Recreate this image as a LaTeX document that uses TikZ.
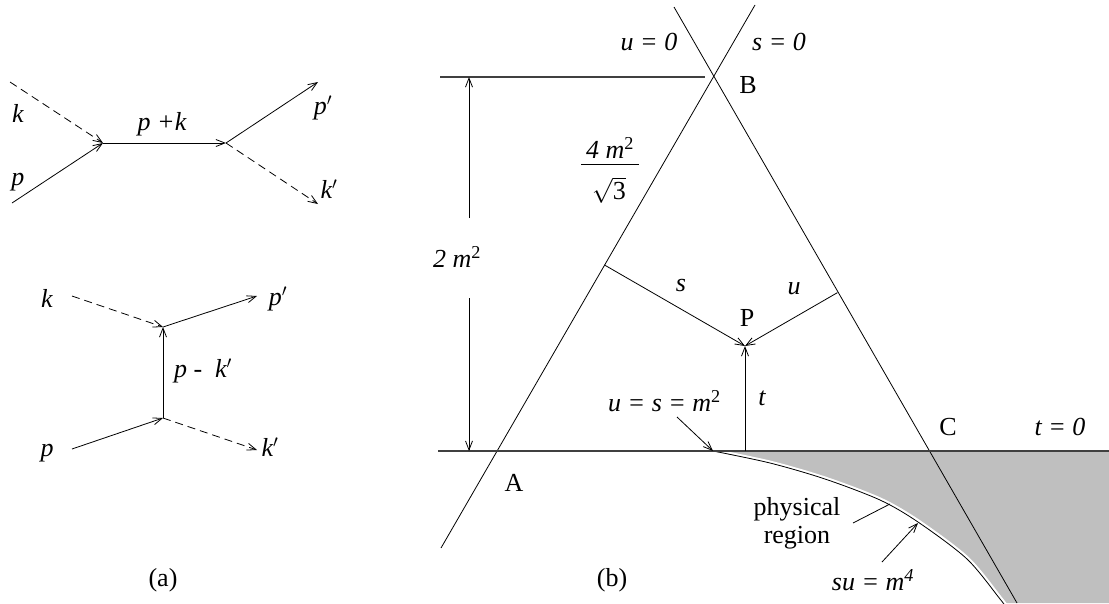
\documentclass[tikz,border=0pt]{standalone}
\usepackage{fontspec}
\setmainfont{Liberation Serif}
\usetikzlibrary{arrows.meta}
\definecolor{regiongray}{RGB}{191,191,191}
\newcommand{\pr}{$^{\prime}$}
\tikzset{
  lbl/.style={inner sep=0pt, font=\fontsize{26}{30}\selectfont\itshape},
  rlbl/.style={inner sep=0pt, font=\fontsize{26}{30}\selectfont},
  fline/.style={line width=0.8pt},
  dline/.style={line width=0.8pt, dash pattern=on 8pt off 5pt},
  arr/.style={-{Straight Barb[length=9pt,width=7pt,line width=0.8pt]}},
  axisline/.style={line width=1.1pt, black!75}
}
\begin{document}
\begin{tikzpicture}[x=1pt,y=-1pt]
\useasboundingbox (0,0) rectangle (1109,603);

% ---------------- panel (a), top: s-channel ----------------
\coordinate (v1) at (103,143);
\coordinate (v2) at (226,143);
\coordinate (kin1) at (10,82);
\coordinate (pin1) at (12,203);
\coordinate (pout1) at (318,82);
\coordinate (kout1) at (318,204);
\draw[dline,arr] (kin1) -- (v1);
\draw[fline,arr] (pin1) -- (v1);
\draw[fline,arr] (v1) -- (v2);
\draw[fline,arr] (v2) -- (pout1);
\draw[dline,arr] (v2) -- (kout1);
\node[lbl] (lk1) at (18,113) {k};
\node[lbl] (lp1) at (18,182) {p};
\node[lbl] (lpk) at (162,124) {p +k};
\node[lbl] (lpp1) at (323,108) {p\pr};
\node[lbl] (lkp1) at (329,189) {k\pr};

% ---------------- panel (a), bottom: u-channel ----------------
\coordinate (v3) at (163,327);
\coordinate (v4) at (163,418);
\coordinate (kin2) at (72,296);
\coordinate (pout2) at (257,296);
\coordinate (pin2) at (72,449);
\coordinate (kout2) at (257,450);
\draw[dline,arr] (kin2) -- (v3);
\draw[fline,arr] (v3) -- (pout2);
\draw[fline,arr] (v4) -- (v3);
\draw[fline,arr] (pin2) -- (v4);
\draw[dline,arr] (v4) -- (kout2);
\node[lbl] (lk2) at (47,298) {k};
\node[lbl] (lpp2) at (278,299) {p\pr};
\node[lbl] (lpmk) at (203,371) {p -\ \ k\pr};
\node[lbl] (lp2) at (47,453) {p};
\node[lbl] (lkp2) at (270,447) {k\pr};
\node[rlbl] (la) at (163,580) {(a)};

% ---------------- panel (b) ----------------
\coordinate (A) at (496.5,451);
\coordinate (B) at (713.5,77);
\coordinate (C) at (930.5,451);
\coordinate (l1top) at (674,7);
\coordinate (l1bot) at (1017,603);
\coordinate (l2top) at (755,5);
\coordinate (l2bot) at (441,548);
\coordinate (P) at (745,346);
\coordinate (sfoot) at (604.5,265);
\coordinate (ufoot) at (837.5,292.6);
\coordinate (tfoot) at (745,451);
\coordinate (M) at (713,451);

% physical region
\fill[regiongray] (M) plot[smooth] coordinates {(713,451) (770,463) (825,479) (880,500) (918,522) (967,559) (1000,599) (1003,603)}
  -- (1109,603) -- (1109,451) -- cycle;
\draw[white,line width=2.4pt] plot[smooth] coordinates {(714,450) (771,462) (826,478) (881,499) (919,521) (968,558) (1001,598) (1004,602)};
\draw[fline] plot[smooth] coordinates {(713,451) (770,463) (825,479) (880,500) (918,522) (967,559) (1000,599) (1003,603)};

% triangle lines
\draw[fline] (l1top) -- (l1bot);
\draw[fline] (l2top) -- (l2bot);
\coordinate (htopL) at (440,77);
\coordinate (htopR) at (705,77);
\draw[axisline] (htopL) -- (htopR);
\coordinate (t0L) at (438,451);
\coordinate (t0R) at (1109,451);
\draw[axisline] (t0L) -- (t0R);

% dimension 2m^2
\coordinate (dtop) at (469,77);
\coordinate (dup) at (469,218);
\coordinate (ddn) at (469,298);
\coordinate (dbot) at (469,451);
\draw[fline,arr] (dup) -- (dtop);
\draw[fline,arr] (ddn) -- (dbot);
\node[lbl] (l2m) at (457,257) {2 m\textsuperscript{\upshape 2}};

% distances s, u, t
\draw[fline,arr] (sfoot) -- (P);
\draw[fline,arr] (ufoot) -- (P);
\draw[fline,arr] (tfoot) -- (P);
\node[lbl] (ls) at (681,285) {s};
\node[lbl] (lu) at (794,289) {u};
\node[lbl] (lt) at (762,398) {t};
\node[rlbl] (lP) at (747,318) {P};

% labels of lines and vertices
\node[lbl] (lu0) at (649,42) {u = 0};
\node[lbl] (ls0) at (779,42) {s = 0};
\node[rlbl] (lB) at (748,85) {B};
\node[rlbl] (lA) at (514,483) {A};
\node[rlbl] (lC) at (948,427) {C};
\node[lbl] (lt0) at (1060,427) {t = 0};

% fraction 4m^2 / sqrt 3
\node[lbl] (lnum) at (610,148) {4 m\textsuperscript{\upshape 2}};
\coordinate (barL) at (581,164);
\coordinate (barR) at (639,164);
\draw[line width=0.9pt] (barL) -- (barR);
\node[rlbl] (lden) at (609,190) {$\sqrt{\hbox{\upshape 3}}$};

% u = s = m^2
\node[lbl,anchor=east] (lusm) at (721,401) {u = s = m\textsuperscript{\upshape 2}};
\coordinate (usmA) at (677,417);
\draw[fline,arr] (usmA) -- (M);

% physical region label
\node[rlbl,align=center,font=\fontsize{26}{28}\selectfont] (lphys) at (797,523) {physical\\region};
\coordinate (physA) at (853,523);
\coordinate (physB) at (890,504);
\draw[fline] (physA) -- (physB);

% su = m^4
\node[lbl] (lsu) at (873,580) {su = m\textsuperscript{4}};
\coordinate (suA) at (882,562);
\coordinate (suB) at (918,523);
\draw[fline,arr] (suA) -- (suB);

\node[rlbl] (lb) at (612,580) {(b)};
\end{tikzpicture}
\end{document}
